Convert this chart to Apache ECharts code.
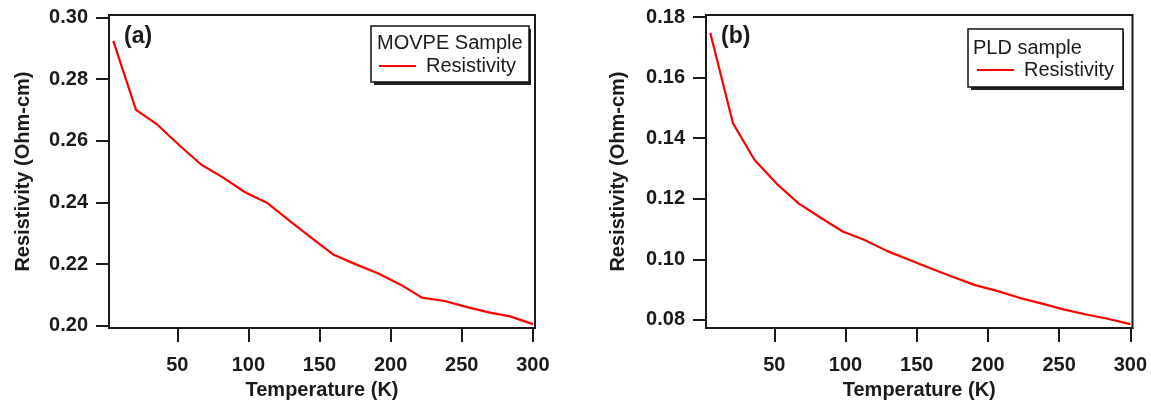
<!DOCTYPE html>
<html>
<head>
<meta charset="utf-8">
<style>
  html, body { margin: 0; padding: 0; background: #ffffff; }
  #chart { width: 1151px; height: 405px; }
</style>
<script src="https://cdn.jsdelivr.net/npm/echarts@6/dist/echarts.min.js"></script>
</head>
<body>
<div id="chart"></div>
<script>
// ---- data ----
const temperatureK = [5, 21, 36, 52, 67, 82, 98, 113, 129, 145, 160, 176, 191, 207, 222, 238, 253, 269, 284, 300];
const movpeResistivity = [0.2924, 0.2700, 0.2652, 0.2583, 0.2522, 0.2481, 0.2432, 0.2399, 0.2340, 0.2282,
                          0.2230, 0.2198, 0.2170, 0.2133, 0.2091, 0.2080, 0.2061, 0.2043, 0.2030, 0.2005];
const pldResistivity = [0.1748, 0.1449, 0.1329, 0.1248, 0.1185, 0.1139, 0.1092, 0.1065, 0.1028, 0.0998,
                        0.0970, 0.0941, 0.0915, 0.0895, 0.0873, 0.0854, 0.0835, 0.0818, 0.0804, 0.0786];
const xTicks = [50, 100, 150, 200, 250, 300];
const yTicksA = [0.20, 0.22, 0.24, 0.26, 0.28, 0.30];
const yTicksB = [0.08, 0.10, 0.12, 0.14, 0.16, 0.18];
const panelLabels = ['(a)', '(b)'];
const legendHeaders = ['MOVPE Sample', 'PLD sample'];
const seriesName = 'Resistivity';
const xTitle = 'Temperature (K)';
const yTitle = 'Resistivity (Ohm-cm)';

// ---- chart ----
const FONT = '"Liberation Sans", Arial, Helvetica, sans-serif';
const INK = '#1a1a1a';
const chart = echarts.init(document.getElementById('chart'), null, { renderer: 'canvas' });

function pairs(xs, ys) { return xs.map((x, i) => [x, ys[i]]); }

function xAxisFor(gridIndex) {
  return {
    type: 'value', gridIndex: gridIndex, min: 2, max: 301.5,
    name: xTitle, nameLocation: 'middle', nameGap: 42,
    nameTextStyle: { fontFamily: FONT, fontWeight: 'bold', fontSize: 20, color: INK },
    axisLine: { show: true, onZero: false, lineStyle: { color: INK, width: 2 } },
    axisTick: { show: true, inside: false, length: 14, lineStyle: { color: INK, width: 2 }, customValues: xTicks },
    axisLabel: { show: true, margin: 27, fontFamily: FONT, fontWeight: 'bold', fontSize: 20, color: INK,
                 customValues: xTicks, formatter: v => String(Math.round(v)) },
    splitLine: { show: false }
  };
}
function yAxisFor(gridIndex, min, max, ticks, gap) {
  return {
    type: 'value', gridIndex: gridIndex, min: min, max: max,
    name: yTitle, nameLocation: 'middle', nameGap: gap,
    nameTextStyle: { fontFamily: FONT, fontWeight: 'bold', fontSize: 20, color: INK },
    axisLine: { show: true, onZero: false, lineStyle: { color: INK, width: 2 } },
    axisTick: { show: true, inside: false, length: 13, lineStyle: { color: INK, width: 2 }, customValues: ticks },
    axisLabel: { show: true, margin: 21, fontFamily: FONT, fontWeight: 'bold', fontSize: 20, color: INK,
                 customValues: ticks, formatter: v => v.toFixed(2) },
    splitLine: { show: false }
  };
}
function legendFor(left, top, padding) {
  return {
    show: true, left: left, top: top, orient: 'vertical', z: 20,
    data: [seriesName],
    icon: 'rect', itemWidth: 37, itemHeight: 2,
    padding: padding,
    textStyle: { fontFamily: FONT, fontSize: 20, color: INK, padding: [0, 0, 0, 5] },
    backgroundColor: '#ffffff', borderColor: '#111111', borderWidth: 1.5, borderRadius: 0,
    selectedMode: false
  };
}

const option = {
  animation: false,
  backgroundColor: '#ffffff',
  grid: [
    { left: 109, top: 15, width: 426, height: 317.5, show: true, borderColor: INK, borderWidth: 2, backgroundColor: 'transparent' },
    { left: 706, top: 15, width: 426.5, height: 317.5, show: true, borderColor: INK, borderWidth: 2, backgroundColor: 'transparent' }
  ],
  xAxis: [xAxisFor(0), xAxisFor(1)],
  yAxis: [
    yAxisFor(0, 0.1992, 0.3008, yTicksA, 76),
    yAxisFor(1, 0.0773, 0.1807, yTicksB, 78)
  ],
  legend: [
    legendFor(371, 26, [30, 13, 6, 8]),
    legendFor(968, 29, [31, 9, 7, 9])
  ],
  series: [
    { name: seriesName, type: 'line', xAxisIndex: 0, yAxisIndex: 0, data: pairs(temperatureK, movpeResistivity),
      showSymbol: false, symbol: 'none', smooth: false, lineStyle: { color: '#ff0000', width: 2.2 }, itemStyle: { color: '#ff0000' } },
    { name: seriesName, type: 'line', xAxisIndex: 1, yAxisIndex: 1, data: pairs(temperatureK, pldResistivity),
      showSymbol: false, symbol: 'none', smooth: false, lineStyle: { color: '#ff0000', width: 2.2 }, itemStyle: { color: '#ff0000' } }
  ],
  graphic: [
    // drop shadows behind the legend boxes
    { type: 'rect', z: 5, silent: true, shape: { x: 374, y: 29, width: 157, height: 56 }, style: { fill: '#222222' } },
    { type: 'rect', z: 5, silent: true, shape: { x: 971, y: 32, width: 153, height: 58 }, style: { fill: '#222222' } },
    { type: 'text', z: 100, x: 124, y: 37, style: { text: panelLabels[0], font: 'bold 23px ' + FONT, fill: INK, align: 'left', verticalAlign: 'middle' } },
    { type: 'text', z: 100, x: 721, y: 37, style: { text: panelLabels[1], font: 'bold 23px ' + FONT, fill: INK, align: 'left', verticalAlign: 'middle' } },
    { type: 'text', z: 100, x: 377, y: 43, style: { text: legendHeaders[0], font: '20px ' + FONT, fill: INK, align: 'left', verticalAlign: 'middle' } },
    { type: 'text', z: 100, x: 973, y: 48, style: { text: legendHeaders[1], font: '20px ' + FONT, fill: INK, align: 'left', verticalAlign: 'middle' } }
  ]
};
chart.setOption(option);
</script>
</body>
</html>
